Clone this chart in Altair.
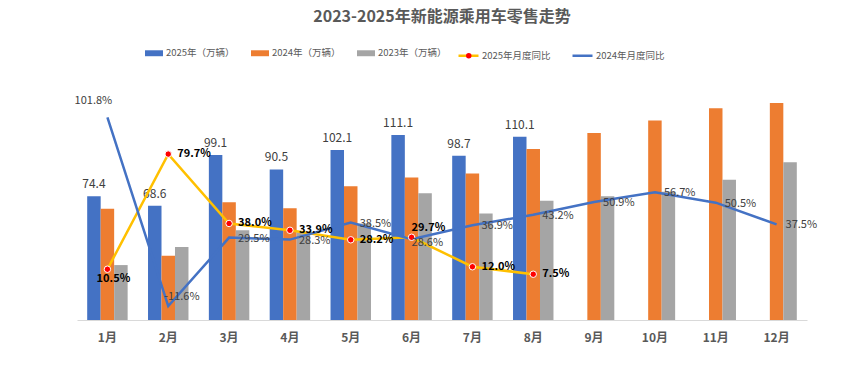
import altair as alt
import pandas as pd

FONT = "Noto Sans CJK SC"

months = ["1月", "2月", "3月", "4月", "5月", "6月", "7月", "8月", "9月", "10月", "11月", "12月"]
bar_series = ["2025年（万辆）", "2024年（万辆）", "2023年（万辆）"]
line_series = ["2025年月度同比", "2024年月度同比"]

sales_2025 = [74.4, 68.6, 99.1, 90.5, 102.1, 111.1, 98.7, 110.1]
sales_2024 = [66.9, 38.6, 70.8, 67.2, 80.4, 85.6, 88.0, 102.8, 112.4, 119.8, 127.2, 130.4]
sales_2023 = [33.0, 43.8, 54.0, 52.7, 58.0, 76.2, 64.0, 71.6, 74.4, 77.0, 84.2, 94.8]
yoy_2025 = [10.5, 79.7, 38.0, 33.9, 28.2, 29.7, 12.0, 7.5]
yoy_2024 = [101.8, -11.6, 29.5, 28.3, 38.5, 28.6, 36.9, 43.2, 50.9, 56.7, 50.5, 37.5]

bar_colors = ["#4472C4", "#ED7D31", "#A5A5A5"]
line_colors = ["#FFC000", "#4472C4"]

rows = []
for s, vals in zip(bar_series, [sales_2025, sales_2024, sales_2023]):
    for m, v in zip(months, vals):
        rows.append({"month": m, "series": s, "value": v})
bar_df = pd.DataFrame(rows)

rows = []
for s, vals in zip(line_series, [yoy_2025, yoy_2024]):
    for m, v in zip(months, vals):
        rows.append({"month": m, "series": s, "value": v, "label": f"{v:.1f}%"})
line_df = pd.DataFrame(rows)

LEG_Y = -43

x_enc = alt.X(
    "month:N",
    sort=months,
    scale=alt.Scale(domain=months, paddingInner=0.335, paddingOuter=0.1675),
    axis=alt.Axis(
        title=None, labelAngle=0, ticks=False, grid=False,
        domainColor="#D9D9D9", domainWidth=1,
        labelFont=FONT, labelFontSize=12, labelFontWeight="bold",
        labelColor="#595959", labelPadding=12,
    ),
)
xoff_enc = alt.XOffset("series:N", scale=alt.Scale(domain=bar_series, paddingInner=0, paddingOuter=0))
y_bar = alt.Y("value:Q", scale=alt.Scale(domain=[0, 140], nice=False, zero=True), axis=None)
y_line = alt.Y("value:Q", scale=alt.Scale(domain=[-20, 120], nice=False, zero=False), axis=None)

bars = alt.Chart(bar_df).mark_bar().encode(
    x=x_enc,
    xOffset=xoff_enc,
    y=y_bar,
    color=alt.Color(
        "series:N",
        scale=alt.Scale(domain=bar_series, range=bar_colors),
        legend=alt.Legend(
            title=None, orient="none", legendX=68, legendY=LEG_Y, direction="horizontal",
            symbolType="M-1,-0.33H1V0.33H-1Z", symbolSize=324, symbolStrokeWidth=0,
            labelFont=FONT, labelFontSize=9.5, labelColor="#595959",
            labelOffset=3, columnPadding=16, padding=0,
        ),
    ),
)

bar_labels = alt.Chart(bar_df).transform_filter(
    alt.datum.series == bar_series[0]
).mark_text(
    dy=-12, baseline="middle", align="center", font=FONT, fontSize=12, color="#404040"
).encode(
    x=x_enc, xOffset=xoff_enc, y=y_bar, text=alt.Text("value:Q", format=".1f")
)

bar_part = alt.layer(bars, bar_labels)

lines = alt.Chart(line_df).mark_line(strokeWidth=2.5).encode(
    x=x_enc,
    y=y_line,
    stroke=alt.Stroke(
        "series:N",
        scale=alt.Scale(domain=line_series, range=line_colors),
        legend=alt.Legend(
            title=None, orient="none", legendX=380, legendY=LEG_Y, direction="horizontal",
            symbolType="stroke", symbolSize=400, symbolStrokeWidth=2.5,
            labelFont=FONT, labelFontSize=9.5, labelColor="#595959",
            labelOffset=2, columnPadding=16, padding=0,
        ),
    ),
)

points = alt.Chart(line_df).transform_filter(
    alt.datum.series == line_series[0]
).mark_point(filled=True, size=42, color="#FF0000", opacity=1, stroke="white", strokeWidth=1).encode(
    x=x_enc,
    y=y_line,
    shape=alt.Shape(
        "series:N",
        scale=alt.Scale(domain=[line_series[0]], range=["circle"]),
        legend=alt.Legend(
            title=None, orient="none", legendX=387, legendY=LEG_Y + 7, direction="horizontal",
            symbolSize=30, symbolFillColor="#FF0000", symbolStrokeColor="white",
            symbolStrokeWidth=1, symbolOpacity=1,
            labelExpr="''", labelFont=FONT, labelFontSize=9.5, labelOffset=0, padding=0,
        ),
    ),
)


def labels(series, expr, color, weight, dx, dy, align="left"):
    return alt.Chart(line_df).transform_filter(
        f"datum.series == '{series}' && ({expr})"
    ).mark_text(
        dx=dx, dy=dy, align=align, baseline="middle", font=FONT, fontSize=11,
        fontWeight=weight, color=color,
    ).encode(x=x_enc, y=y_line, text="label:N")


s25, s24 = line_series
lab25_main = labels(s25, "indexof(['1月','6月'], datum.month) < 0", "#000000", "bold", 9, 0)
lab25_jan = labels(s25, "datum.month == '1月'", "#000000", "bold", 6, 10, "center")
lab25_jun = labels(s25, "datum.month == '6月'", "#000000", "bold", 0, -9)
lab24_main = labels(s24, "indexof(['1月','2月','6月'], datum.month) < 0", "#404040", "normal", 9, 1)
lab24_jan = labels(s24, "datum.month == '1月'", "#404040", "normal", -14, -16, "center")
lab24_feb = labels(s24, "datum.month == '2月'", "#404040", "normal", -4, -9)
lab24_jun = labels(s24, "datum.month == '6月'", "#404040", "normal", 0, 4)

line_part = alt.layer(
    lines, points, lab24_main, lab24_jan, lab24_feb, lab24_jun,
    lab25_main, lab25_jan, lab25_jun,
)

chart = alt.layer(bar_part, line_part).resolve_scale(y="independent").properties(
    width=730,
    height=233,
    padding={"left": 69, "top": 79, "right": 29, "bottom": 40},
    autosize=alt.AutoSizeParams(type="none"),
    title=alt.TitleParams(
        "2023-2025年新能源乘用车零售走势", font=FONT, fontSize=16, fontWeight="bold",
        color="#595959", anchor="middle", offset=19,
    ),
).configure_view(stroke=None)

chart.save("out.html", embed_options={"renderer": "svg", "actions": False})
